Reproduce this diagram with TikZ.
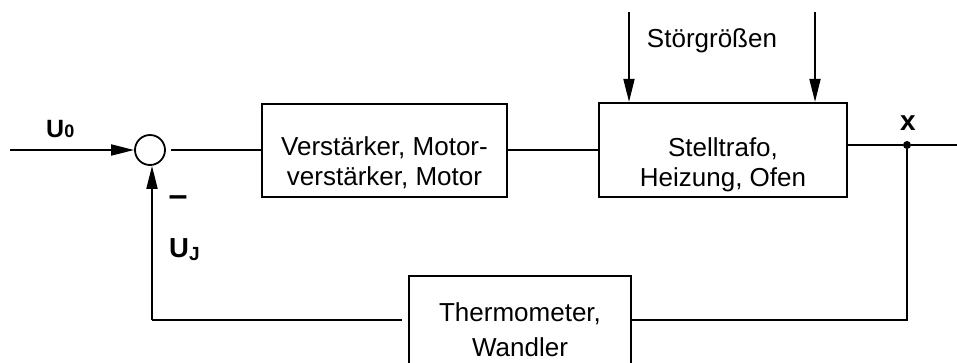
\documentclass[tikz,border=0pt]{standalone}
\usepackage{fontspec}
\setmainfont{Liberation Sans}
\usetikzlibrary{arrows.meta}
\begin{document}
\begin{tikzpicture}[x=1pt,y=-1pt,
  wire/.style={line width=1.8pt},
  arr/.style={wire,-{Triangle[length=23pt,width=11pt]}},
  blk/.style={draw,line width=2.2pt,inner sep=0pt},
  btext/.style={inner sep=0pt,align=center,font=\fontsize{26}{30}\selectfont},
  sumc/.style={draw,circle,line width=1.8pt,minimum size=30pt,inner sep=0pt},
  dot/.style={fill,circle,minimum size=8pt,inner sep=0pt},
  bl/.style={inner sep=0pt,font=\bfseries}]
\useasboundingbox (0,0) rectangle (957,362);
% nodes
\node[sumc] (sum) at (150,150) {};
\node[blk,minimum width=245pt,minimum height=93pt] (amp) at (384.5,150.5) {};
\node[btext,anchor=north] (amptext) at (384.5,136) {Verstärker, Motor-\\verstärker, Motor};
\node[blk,minimum width=248pt,minimum height=94pt] (plant) at (723,150) {};
\node[btext,anchor=north] (planttext) at (723,137) {Stelltrafo,\\Heizung, Ofen};
\node[blk,minimum width=222pt,minimum height=110pt] (therm) at (520,331) {};
\node[btext,anchor=north,font=\fontsize{26}{35}\selectfont] (thermtext) at (520,302) {Thermometer,\\Wandler};
\node[dot] (junc) at (907,145) {};
% labels
\node[btext,anchor=base] (stoer) at (712,47) {Störgrößen};
\node[bl,anchor=base west] (u0) at (46,137) {\fontsize{25}{25}\selectfont U\fontsize{18}{18}\selectfont 0};
\node[bl,anchor=base west] (uj) at (169,257) {\fontsize{27.5}{28}\selectfont U\raisebox{-3pt}{\fontsize{19}{19}\selectfont J}};
\node[bl,anchor=center] (minus) at (178,201) {\fontsize{34}{34}\selectfont –};
\node[bl,anchor=base] (xlab) at (908,130) {\fontsize{28}{28}\selectfont x};
% coordinates
\coordinate (in) at (10,150);
\coordinate (outend) at (957,145);
\coordinate (fbR) at (907,320);
\coordinate (fbL) at (152,320);
\coordinate (d1) at (629,12);
\coordinate (d2) at (815,12);
% connectors
\draw[arr] (in) -- (sum.west);
\draw[wire,shorten <=5pt] (sum.east) -- (sum.east -| amp.west);
\draw[wire] (amp.east |- 0,150) -- (plant.west |- 0,150);
\draw[wire] (plant.east |- junc) -- (junc) -- (outend);
\draw[wire] (junc) -- (fbR) -- (fbR -| therm.east);
\draw[wire,shorten <=6pt] (fbL -| therm.west) -- (fbL);
\draw[arr] (fbL) -- (fbL |- sum.south);
\draw[arr] (d1) -- (d1 |- plant.north);
\draw[arr] (d2) -- (d2 |- plant.north);
\end{tikzpicture}
\end{document}
